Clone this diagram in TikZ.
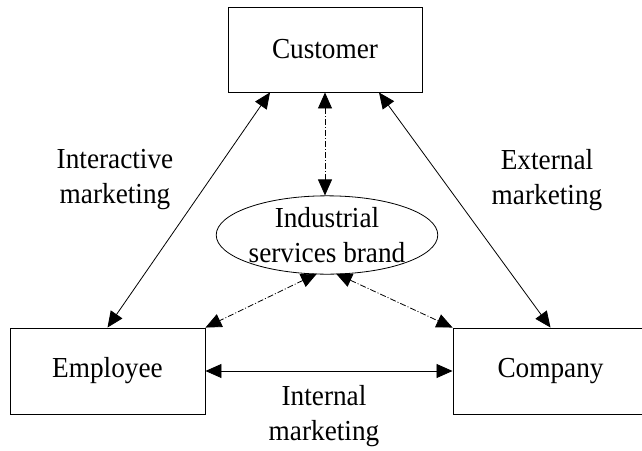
\documentclass[tikz,border=0pt]{standalone}
\usepackage{fontspec}
\setmainfont{Liberation Serif}[FakeStretch=0.94]
\usetikzlibrary{arrows.meta,shapes.geometric}
\begin{document}
\begin{tikzpicture}[x=1pt,y=-1pt,
  every node/.style={font=\fontsize{29}{35}\selectfont},
  box/.style={draw,line width=0.9pt,rectangle,inner sep=0pt},
  lab/.style={align=center,inner sep=0pt},
  link/.style={line width=0.8pt,{Triangle[length=16pt,width=14pt]}-{Triangle[length=16pt,width=14pt]}},
  dd/.style={link,dash pattern=on 6pt off 2pt on 1pt off 2pt}]
\useasboundingbox (0,0) rectangle (642,450);
\clip (0,0) rectangle (642,450);
\node[box,minimum width=194pt,minimum height=85pt] (cust) at (325,49.5) {Customer};
\node[box,minimum width=195pt,minimum height=86pt] (emp) at (107.5,371) {Employee};
\node[box,minimum width=195pt,minimum height=86pt] (comp) at (550.5,371) {Company};
\node[draw,ellipse,line width=0.8pt,minimum width=208pt,minimum height=76pt,inner sep=0pt,align=center] (brand) at (327,235) {Industrial\\services brand};
\node[lab] (l1) at (115,180) {Interactive\\marketing};
\node[lab] (l2) at (547,180) {External\\marketing};
\node[lab] (l3) at (324,416) {Internal\\marketing};
\draw[link] ([xshift=-55pt]cust.south) -- (emp.north);
\draw[link] ([xshift=54pt]cust.south) -- (comp.north);
\draw[link] (emp.east) -- (comp.west);
\draw[dd] (cust.south) -- (cust.south |- brand.north);
\draw[dd] ([xshift=-10pt,yshift=1pt]brand.south) -- (emp.north east);
\draw[dd] ([xshift=9pt,yshift=1pt]brand.south) -- (comp.north west);
\end{tikzpicture}
\end{document}
